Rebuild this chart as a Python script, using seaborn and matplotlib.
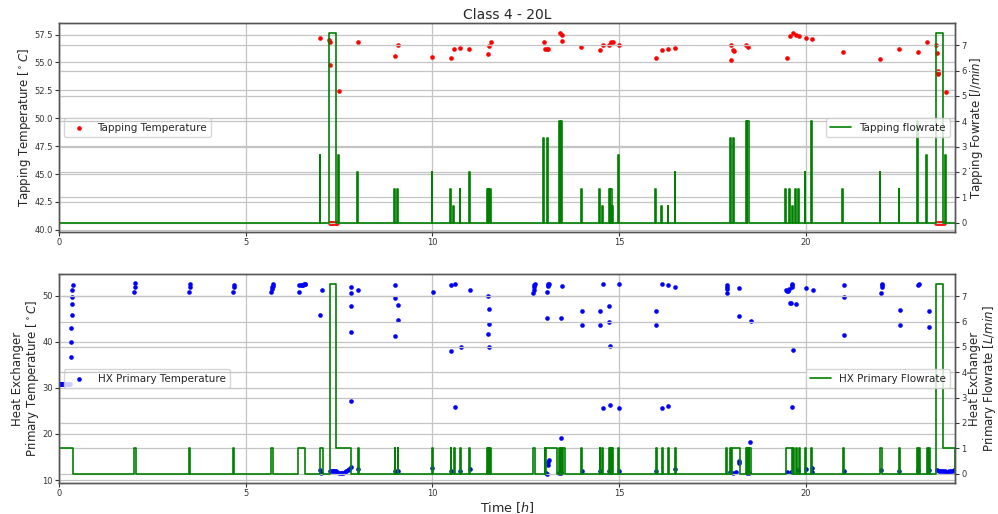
import numpy as np
import pandas as pd
import matplotlib
matplotlib.use("Agg")
import matplotlib.pyplot as plt
import seaborn as sns

# ---------------- data ----------------
# Tapping temperature samples (time [h], temperature [C])
tap_temp_t = [6.99, 7.24, 7.27, 7.27, 7.50, 8.00, 8.99, 9.07, 9.99, 10.49, 10.58, 10.74, 10.99,
              11.49, 11.53, 11.57, 12.99, 13.01, 13.07, 13.10, 13.41, 13.46, 13.48, 13.99,
              14.49, 14.57, 14.73, 14.78, 14.84, 14.99, 15.99, 16.15, 16.32, 16.49, 17.99,
              18.00, 18.06, 18.09, 18.41, 18.46, 19.50, 19.57, 19.66, 19.75, 19.82, 20.01,
              20.17, 21.00, 22.00, 22.50, 23.00, 23.25, 23.50, 23.52, 23.53, 23.53, 23.53, 23.76,
              7.26, 7.29, 7.32, 7.35, 7.38, 7.41, 7.44,
              23.50, 23.54, 23.58, 23.62, 23.66, 23.70]
tap_temp_v = [57.23, 57.05, 56.84, 54.73, 52.40, 56.84, 55.56, 56.54, 55.50, 55.44, 56.21, 56.30, 56.16,
              55.77, 56.48, 56.84, 56.81, 56.21, 56.24, 56.16, 57.65, 57.50, 56.96, 56.36,
              56.07, 56.54, 56.54, 56.87, 56.87, 56.60, 55.41, 56.07, 56.21, 56.33, 56.60,
              55.26, 56.10, 56.00, 56.54, 56.42, 55.41, 57.35, 57.65, 57.50, 57.35, 57.23,
              57.08, 55.95, 55.35, 56.21, 55.95, 56.87, 56.57, 55.80, 54.22, 54.01, 53.92, 52.37,
              40.65, 40.65, 40.65, 40.65, 40.65, 40.65, 40.65,
              40.65, 40.65, 40.65, 40.65, 40.65, 40.65]

# Tapping flow events: start [h], end [h], flowrate [l/min]
tap_start = [6.98, 7.23, 7.47, 7.98, 8.98, 9.06, 9.98, 10.48, 10.56, 10.73, 10.98, 11.47, 11.50, 11.54,
             12.97, 13.06, 13.39, 13.44, 13.98, 14.47, 14.55, 14.72, 14.77, 14.82, 14.97, 15.97,
             16.13, 16.30, 16.49, 17.96, 18.04, 18.39, 18.44, 19.45, 19.56, 19.63, 19.72, 19.80,
             19.97, 20.14, 20.97, 21.98, 22.49, 22.98, 23.22, 23.48, 23.73]
tap_end = [7.00, 7.43, 7.50, 8.00, 9.00, 9.08, 10.00, 10.50, 10.58, 10.75, 11.00, 11.49, 11.52, 11.57,
           13.00, 13.09, 13.43, 13.48, 14.00, 14.49, 14.57, 14.75, 14.80, 14.85, 14.99, 15.99,
           16.15, 16.32, 16.51, 17.99, 18.07, 18.43, 18.48, 19.47, 19.58, 19.65, 19.74, 19.82,
           19.99, 20.16, 20.99, 22.00, 22.51, 23.00, 23.24, 23.68, 23.77]
tap_flow = [2.67, 7.5, 2.67, 2.0, 1.33, 1.33, 2.0, 1.33, 0.67, 1.33, 2.0, 1.33, 1.33, 1.33,
            3.33, 3.33, 4.0, 4.0, 1.33, 1.33, 0.67, 1.33, 1.33, 0.67, 2.67, 1.33,
            0.67, 0.67, 2.0, 3.33, 3.33, 4.0, 4.0, 1.33, 1.33, 0.67, 1.33, 1.33,
            2.0, 4.0, 1.33, 2.0, 1.33, 4.0, 2.67, 7.5, 2.67]

# HX primary temperature samples (time [h], temperature [C])
hx_temp_t = [0.00, 0.02, 0.04, 0.06, 0.08, 0.10, 0.12, 0.14, 0.16, 0.18, 0.20, 0.22, 0.24, 0.26, 0.28, 0.30,
             0.31, 0.32, 0.33, 0.34, 0.35, 0.35, 0.36, 0.37,
             2.02, 2.03, 2.04, 3.49, 3.50, 3.51, 4.67, 4.68, 4.69,
             5.69, 5.70, 5.71, 5.72, 5.74,
             6.42, 6.44, 6.47, 6.50, 6.53, 6.56, 6.58, 6.60,
             7.00, 7.05, 7.00, 7.01,
             7.27, 7.30, 7.33, 7.36, 7.39, 7.42, 7.45, 7.50, 7.54, 7.58, 7.62, 7.66, 7.70, 7.74, 7.78, 7.81,
             7.82, 7.82, 7.82, 7.83, 7.83, 8.02, 8.01,
             9.00, 9.00, 9.01, 9.08, 9.08, 9.00, 9.08,
             10.01, 10.00, 10.49, 10.50, 10.60, 10.60, 10.49, 10.76, 10.75, 11.00, 11.00,
             11.49, 11.49, 11.51, 11.51, 11.53, 11.50,
             12.70, 12.71, 12.72, 12.73, 12.74,
             13.04, 13.07, 13.10, 13.11, 13.12, 13.07, 13.07, 13.09, 13.10, 13.11, 13.13,
             13.40, 13.44, 13.45, 13.45, 13.46,
             14.01, 14.01, 14.00, 14.50, 14.50, 14.49, 14.57, 14.57,
             14.73, 14.74, 14.75, 14.76, 14.74, 15.00, 15.00, 15.00,
             15.98, 15.99, 16.00, 16.15, 16.15, 16.32, 16.32, 16.50, 16.50,
             17.88, 17.89, 17.89, 17.90, 17.98, 18.05, 18.12,
             18.21, 18.21, 18.22, 18.22, 18.42, 18.47, 18.52, 18.53,
             19.48, 19.50, 19.52, 19.55, 19.57, 19.60, 19.62, 19.63, 19.64, 19.63, 19.67, 19.74,
             19.50, 19.60, 19.78,
             20.00, 20.00, 20.19, 20.17, 20.16,
             21.02, 21.02, 21.03, 21.02,
             22.02, 22.03, 22.04, 22.04, 22.02,
             22.52, 22.52, 22.51, 23.02, 23.04, 23.02, 23.30, 23.31, 23.30,
             23.52, 23.56, 23.60, 23.64, 23.68, 23.72, 23.76, 23.80, 23.84, 23.88, 23.92, 23.96, 24.00]
hx_temp_v = [30.9, 30.9, 30.9, 30.9, 30.9, 30.9, 30.9, 30.9, 30.9, 30.9, 30.9, 30.9, 30.9, 30.9, 30.9, 30.9,
             36.8, 40.0, 43.1, 45.8, 48.1, 49.7, 51.2, 52.4,
             50.7, 51.8, 52.7, 50.7, 51.8, 52.6, 50.7, 51.9, 52.4,
             50.7, 51.5, 51.9, 52.2, 52.6,
             50.7, 52.3, 52.4, 52.3, 52.4, 52.5, 52.5, 52.6,
             45.9, 51.2, 12.2, 11.6,
             11.9, 11.9, 11.9, 11.9, 11.9, 11.9, 11.8, 11.5, 11.5, 11.5, 11.6, 11.7, 11.9, 12.1, 12.4, 12.8,
             27.1, 42.1, 47.7, 50.6, 52.0, 51.3, 12.3,
             41.3, 49.6, 52.4, 44.7, 47.9, 12.0, 12.0,
             50.9, 12.5, 38.1, 52.3, 25.8, 52.5, 12.0, 38.8, 12.0, 51.3, 12.3,
             41.8, 49.9, 47.2, 43.9, 38.8, 12.0,
             50.6, 51.2, 51.8, 52.3, 52.5,
             11.6, 11.4, 13.3, 14.0, 14.4, 45.1, 50.9, 52.1, 52.3, 52.5, 52.5,
             11.5, 11.5, 19.2, 45.1, 52.1,
             43.6, 46.7, 11.9, 43.6, 46.7, 11.9, 52.5, 25.6,
             44.4, 47.7, 39.1, 26.2, 11.9, 52.5, 25.6, 12.0,
             43.6, 46.7, 12.0, 52.5, 25.6, 52.3, 26.0, 51.8, 12.3,
             50.6, 51.5, 52.0, 52.4, 11.7, 11.6, 11.7,
             13.6, 14.2, 45.7, 51.6, 11.5, 11.5, 18.3, 44.6,
             51.2, 51.0, 51.1, 51.4, 48.4, 48.4, 51.8, 52.3, 52.6, 25.8, 38.3, 48.2,
             11.8, 11.8, 12.1,
             51.6, 12.4, 51.3, 12.6, 11.7,
             41.5, 49.7, 52.4, 12.0,
             50.5, 51.8, 52.3, 52.5, 12.2,
             43.7, 46.9, 12.0, 52.4, 52.5, 12.1, 43.3, 46.6, 12.2,
             12.1, 12.0, 12.0, 12.0, 11.9, 11.9, 11.8, 11.8, 11.9, 11.9, 12.0, 12.1, 12.2]

# HX primary flow events: start [h], end [h], flowrate [L/min]
hx_start = [0.00, 2.02, 3.49, 4.67, 5.69, 6.41, 6.99, 7.27, 7.43, 8.00, 8.99, 9.07, 10.00, 10.49, 10.58,
            10.74, 10.99, 11.47, 11.50, 11.54, 12.70, 13.01, 13.05, 13.39, 13.44, 13.50, 13.99, 14.48,
            14.55, 14.72, 14.77, 14.82, 14.98, 15.98, 16.14, 16.30, 16.49, 17.87, 17.97, 18.03, 18.39,
            18.44, 18.49, 19.46, 19.66, 19.73, 19.81, 19.99, 20.15, 20.99, 22.00, 22.50, 22.99, 23.04,
            23.24, 23.29, 23.50, 23.68]
hx_end = [0.37, 2.05, 3.52, 4.70, 5.74, 6.60, 7.08, 7.43, 7.82, 8.03, 9.01, 9.09, 10.02, 10.51, 10.60,
          10.76, 11.01, 11.49, 11.52, 11.57, 12.74, 13.03, 13.33, 13.42, 13.48, 13.54, 14.02, 14.50,
          14.58, 14.75, 14.80, 14.85, 15.01, 16.01, 16.17, 16.33, 16.52, 17.90, 18.00, 18.23, 18.42,
          18.47, 18.54, 19.64, 19.68, 19.76, 19.84, 20.02, 20.18, 21.02, 22.03, 22.53, 23.02, 23.07,
          23.27, 23.32, 23.68, 24.00]
hx_flow = [1, 1, 1, 1, 1, 1, 1, 7.5, 1, 1, 1, 1, 1, 1, 1,
           1, 1, 1, 1, 1, 1, 1, 1, 1, 1, 1, 1, 1,
           1, 1, 1, 1, 1, 1, 1, 1, 1, 1, 1, 1, 1,
           1, 1, 1, 1, 1, 1, 1, 1, 1, 1, 1, 1, 1,
           1, 1, 7.5, 1]


def step_table(starts, ends, values, t_end=24.0):
    xs, ys = [0.0], [0.0]
    for s, e, v in zip(starts, ends, values):
        if abs(s - xs[-1]) < 1e-9:
            ys[-1] = v
        else:
            xs.append(s)
            ys.append(v)
        xs.append(e)
        ys.append(0.0)
    if xs[-1] < t_end:
        xs.append(t_end)
        ys.append(0.0)
    return pd.DataFrame({"t": xs, "flow": ys})


tap_df = pd.DataFrame({"t": tap_temp_t, "T": tap_temp_v})
hx_df = pd.DataFrame({"t": hx_temp_t, "T": hx_temp_v})
tap_flow_df = step_table(tap_start, tap_end, tap_flow)
hx_flow_df = step_table(hx_start, hx_end, hx_flow)

# ---------------- plot ----------------
sns.set_style("ticks")
plt.rcParams["font.family"] = ["DejaVu Sans"]
plt.rcParams["axes.edgecolor"] = "#555555"
plt.rcParams["axes.linewidth"] = 1.0
plt.rcParams["xtick.color"] = "#333333"
plt.rcParams["ytick.color"] = "#333333"

fig, (ax1, ax3) = plt.subplots(2, 1, figsize=(9.98, 5.14), dpi=100)
fig.subplots_adjust(left=0.0591, right=0.957, top=0.955, bottom=0.0603, hspace=0.201)

grid_kw = dict(color="#c4c4c4", linewidth=0.9)
TICK = 6.0
LAB = 8.5
LEG = 7.5

# top panel
sns.scatterplot(data=tap_df, x="t", y="T", ax=ax1, color="red", s=11, linewidth=0,
                label="Tapping Temperature")
ax2 = ax1.twinx()
sns.lineplot(data=tap_flow_df, x="t", y="flow", ax=ax2, color="green", lw=1.2,
             drawstyle="steps-post", estimator=None, sort=False, label="Tapping flowrate")
ax1.set_xlim(0, 24)
ax1.set_ylim(39.8, 58.52)
ax2.set_ylim(-0.375, 7.875)
ax1.set_yticks([40.0, 42.5, 45.0, 47.5, 50.0, 52.5, 55.0, 57.5])
ax1.set_yticklabels(["40.0", "42.5", "45.0", "47.5", "50.0", "52.5", "55.0", "57.5"])
ax2.set_yticks(range(0, 8))
ax1.set_xticks([0, 5, 10, 15, 20])
ax1.set_title("Class 4 - 20L", fontsize=10, pad=3)
ax1.set_xlabel("")
ax1.set_ylabel(r"Tapping Temperature [$^\circ C$]", fontsize=LAB, labelpad=1)
ax2.set_ylabel(r"Tapping Fowrate [$l/min$]", fontsize=LAB, labelpad=1)
ax1.legend(loc="center left", fontsize=LEG)
ax2.legend(loc="center right", fontsize=LEG)

# bottom panel
sns.scatterplot(data=hx_df, x="t", y="T", ax=ax3, color="blue", s=11, linewidth=0,
                label="HX Primary Temperature")
ax4 = ax3.twinx()
sns.lineplot(data=hx_flow_df, x="t", y="flow", ax=ax4, color="green", lw=1.2,
             drawstyle="steps-post", estimator=None, sort=False, label="HX Primary Flowrate")
ax3.set_xlim(0, 24)
ax3.set_ylim(9.35, 54.7)
ax4.set_ylim(-0.375, 7.875)
ax3.set_yticks([10, 20, 30, 40, 50])
ax4.set_yticks(range(0, 8))
ax3.set_xticks([0, 5, 10, 15, 20])
ax3.set_xlabel(r"Time [$h$]", fontsize=9.2, labelpad=1.5)
ax3.set_ylabel("Heat Exchanger\n" + r"Primary Temperature [$^\circ C$]", fontsize=LAB,
               labelpad=1, linespacing=1.0)
ax4.set_ylabel("Heat Exchanger\n" + r"Primary Flowrate [$L/min$]", fontsize=LAB,
               labelpad=1, linespacing=1.0)
ax3.legend(loc="center left", fontsize=LEG)
ax4.legend(loc="center right", fontsize=LEG)

for a in (ax1, ax2, ax3, ax4):
    a.grid(True, **grid_kw)
    a.set_axisbelow(True)
    a.tick_params(labelsize=TICK, length=3, width=0.8, pad=1.5)
    for sp in a.spines.values():
        sp.set_visible(True)
        sp.set_color("#555555")
ax2.set_xlabel("")
ax4.set_xlabel("")

fig.savefig("out.png", dpi=100)
